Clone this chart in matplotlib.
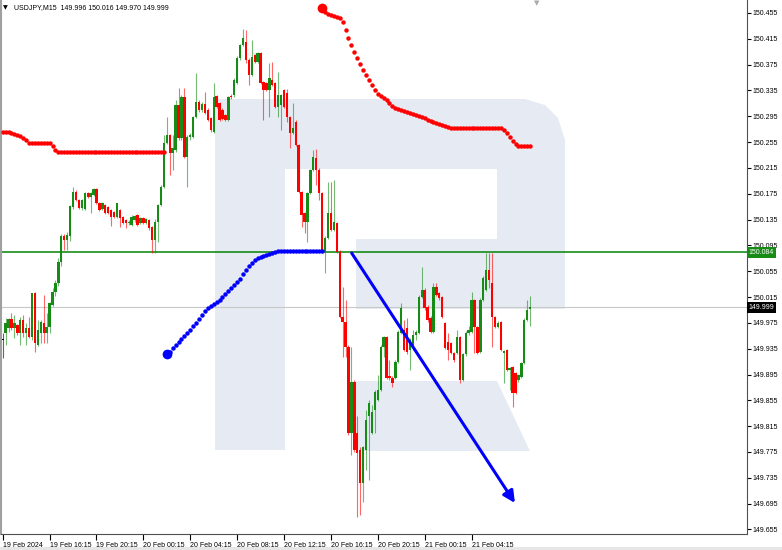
import numpy as np
import matplotlib.pyplot as plt
import matplotlib.transforms as mtransforms
from matplotlib.patches import Polygon, Rectangle

# USDJPY M15 bars, 19 Feb 12:15 .. 21 Feb 09:15
opens = [
    149.949, 149.960, 149.967, 149.981, 149.967, 149.972, 149.960, 149.980, 149.960, 149.967,
    149.953, 150.021, 149.941, 149.960, 149.975, 149.960, 149.969, 150.003, 150.023, 150.037,
    150.069, 150.110, 150.103, 150.110, 150.155, 150.178, 150.165, 150.153, 150.151, 150.176,
    150.170, 150.173, 150.182, 150.161, 150.151, 150.158, 150.155, 150.150, 150.147, 150.139,
    150.150, 150.139, 150.134, 150.130, 150.127, 150.134, 150.142, 150.130, 150.138, 150.130,
    150.134, 150.124, 150.103, 150.131, 150.158, 150.186, 150.254, 150.266, 150.238, 150.243,
    150.313, 150.261, 150.325, 150.232, 150.263, 150.263, 150.294, 150.317, 150.305, 150.314,
    150.305, 150.292, 150.271, 150.326, 150.316, 150.305, 150.297, 150.289, 150.326, 150.328,
    150.347, 150.385, 150.405, 150.410, 150.382, 150.359, 150.390, 150.379, 150.393, 150.348,
    150.347, 150.336, 150.351, 150.347, 150.309, 150.313, 150.336, 150.331, 150.294, 150.269,
    150.286, 150.251, 150.178, 150.145, 150.131, 150.176, 150.212, 150.230, 150.212, 150.176,
    150.085, 150.107, 150.145, 150.119, 150.130, 150.085, 149.984, 149.977, 149.938, 149.805,
    149.884, 149.805, 149.778, 149.727, 149.778, 149.830, 149.805, 149.840, 149.856, 149.871,
    149.938, 149.953, 149.893, 149.890, 149.890, 149.915, 149.960, 149.964, 149.967, 149.933,
    149.941, 149.956, 149.960, 150.015, 150.026, 150.000, 149.983, 149.961, 150.031, 150.021,
    150.015, 149.975, 149.946, 149.944, 149.929, 149.929, 149.953, 149.887, 149.926, 149.960,
    149.961, 150.011, 149.969, 149.930, 150.011, 150.026, 150.057, 150.037, 149.984, 149.969,
    149.977, 149.929, 149.933, 149.902, 149.907, 149.898, 149.887, 149.891, 149.913, 149.980,
    149.996,
]
highs = [
    149.960, 149.983, 149.983, 149.990, 149.987, 149.973, 149.984, 149.987, 149.975, 149.984,
    150.022, 150.023, 149.980, 149.980, 150.018, 149.990, 150.007, 150.029, 150.042, 150.076,
    150.113, 150.113, 150.116, 150.158, 150.186, 150.181, 150.167, 150.167, 150.178, 150.178,
    150.178, 150.184, 150.184, 150.162, 150.162, 150.159, 150.156, 150.151, 150.148, 150.161,
    150.151, 150.141, 150.136, 150.134, 150.142, 150.142, 150.144, 150.139, 150.139, 150.138,
    150.136, 150.125, 150.136, 150.159, 150.189, 150.266, 150.294, 150.268, 150.266, 150.320,
    150.339, 150.328, 150.339, 150.266, 150.269, 150.295, 150.362, 150.320, 150.317, 150.333,
    150.308, 150.294, 150.347, 150.328, 150.317, 150.308, 150.299, 150.326, 150.330, 150.354,
    150.388, 150.407, 150.430, 150.429, 150.385, 150.413, 150.391, 150.395, 150.395, 150.350,
    150.348, 150.378, 150.379, 150.348, 150.364, 150.330, 150.337, 150.337, 150.295, 150.316,
    150.289, 150.252, 150.179, 150.147, 150.178, 150.213, 150.243, 150.244, 150.215, 150.178,
    150.110, 150.193, 150.193, 150.196, 150.131, 150.088, 150.031, 150.011, 149.941, 149.938,
    149.887, 149.830, 149.782, 149.785, 149.840, 149.856, 149.848, 149.871, 149.895, 149.941,
    149.955, 149.955, 149.918, 149.893, 149.918, 149.964, 150.006, 149.980, 149.983, 149.952,
    149.964, 149.964, 150.018, 150.062, 150.029, 150.003, 149.986, 150.037, 150.037, 150.023,
    150.017, 149.977, 149.960, 149.946, 149.930, 149.964, 149.955, 149.929, 149.963, 149.970,
    150.023, 150.012, 149.970, 150.014, 150.048, 150.083, 150.083, 150.083, 149.986, 149.978,
    149.978, 149.933, 149.935, 149.907, 149.908, 149.899, 149.896, 149.915, 149.983, 150.011,
    150.016,
]
lows = [
    149.921, 149.941, 149.961, 149.964, 149.952, 149.956, 149.941, 149.953, 149.941, 149.952,
    149.949, 149.930, 149.939, 149.944, 149.944, 149.944, 149.960, 150.001, 150.017, 150.032,
    150.063, 150.088, 150.088, 150.102, 150.151, 150.164, 150.151, 150.150, 150.150, 150.169,
    150.145, 150.172, 150.159, 150.148, 150.150, 150.144, 150.144, 150.125, 150.138, 150.138,
    150.124, 150.128, 150.122, 150.127, 150.125, 150.131, 150.125, 150.128, 150.128, 150.128,
    150.119, 150.083, 150.083, 150.100, 150.156, 150.184, 150.252, 150.204, 150.212, 150.240,
    150.258, 150.258, 150.230, 150.186, 150.258, 150.261, 150.292, 150.302, 150.302, 150.299,
    150.288, 150.271, 150.269, 150.308, 150.288, 150.289, 150.288, 150.288, 150.322, 150.325,
    150.345, 150.382, 150.404, 150.378, 150.343, 150.357, 150.378, 150.378, 150.345, 150.289,
    150.334, 150.294, 150.342, 150.308, 150.294, 150.274, 150.308, 150.286, 150.246, 150.268,
    150.249, 150.176, 150.124, 150.114, 150.100, 150.175, 150.210, 150.189, 150.165, 150.083,
    150.052, 150.105, 150.117, 150.117, 150.083, 149.983, 149.922, 149.922, 149.802, 149.771,
    149.775, 149.675, 149.678, 149.698, 149.747, 149.732, 149.803, 149.805, 149.854, 149.870,
    149.922, 149.888, 149.887, 149.876, 149.888, 149.913, 149.958, 149.932, 149.926, 149.902,
    149.933, 149.949, 149.958, 150.014, 149.995, 149.977, 149.960, 149.960, 150.017, 150.011,
    149.983, 149.935, 149.918, 149.927, 149.915, 149.927, 149.882, 149.885, 149.924, 149.956,
    149.960, 149.929, 149.927, 149.929, 150.009, 150.025, 150.029, 149.938, 149.967, 149.967,
    149.932, 149.882, 149.901, 149.871, 149.845, 149.865, 149.884, 149.890, 149.912, 149.978,
    149.970,
]
closes = [
    149.949, 149.975, 149.981, 149.967, 149.975, 149.960, 149.980, 149.960, 149.967, 149.953,
    150.021, 149.944, 149.964, 149.977, 149.960, 149.969, 150.006, 150.023, 150.037, 150.069,
    150.110, 150.103, 150.111, 150.156, 150.178, 150.165, 150.153, 150.165, 150.176, 150.170,
    150.176, 150.182, 150.161, 150.150, 150.161, 150.145, 150.145, 150.139, 150.139, 150.161,
    150.138, 150.130, 150.130, 150.131, 150.139, 150.141, 150.127, 150.138, 150.130, 150.136,
    150.122, 150.103, 150.131, 150.158, 150.186, 150.254, 150.266, 150.238, 150.246, 150.313,
    150.261, 150.325, 150.232, 150.263, 150.266, 150.294, 150.317, 150.305, 150.314, 150.300,
    150.289, 150.274, 150.325, 150.309, 150.289, 150.291, 150.289, 150.325, 150.325, 150.351,
    150.385, 150.405, 150.416, 150.382, 150.359, 150.387, 150.379, 150.393, 150.347, 150.336,
    150.336, 150.354, 150.343, 150.309, 150.328, 150.328, 150.309, 150.294, 150.269, 150.277,
    150.251, 150.178, 150.142, 150.131, 150.176, 150.212, 150.232, 150.212, 150.176, 150.085,
    150.107, 150.145, 150.119, 150.131, 150.085, 149.984, 149.977, 149.938, 149.805, 149.884,
    149.778, 149.774, 149.727, 149.782, 149.825, 149.851, 149.837, 149.868, 149.871, 149.938,
    149.953, 149.890, 149.890, 149.882, 149.915, 149.961, 149.998, 149.933, 149.930, 149.949,
    149.956, 149.961, 150.015, 150.026, 149.998, 149.980, 149.961, 150.031, 150.018, 150.014,
    149.984, 149.936, 149.933, 149.929, 149.918, 149.953, 149.887, 149.926, 149.960, 149.964,
    150.011, 149.969, 149.929, 150.011, 150.045, 150.057, 150.042, 149.984, 149.969, 149.975,
    149.933, 149.932, 149.902, 149.905, 149.867, 149.867, 149.895, 149.913, 149.980, 149.995,
    149.999,
]

# dotted indicator (red = above price, blue = below price)
red_dots_left = [150.271, 150.271, 150.270, 150.269, 150.268, 150.266, 150.264, 150.261,
                 150.258, 150.254, 150.254, 150.253, 150.253, 150.253, 150.253, 150.253,
                 150.253, 150.249, 150.243] + [150.239] * 37          # bars 0..55
blue_dots = [149.926, 149.930, 149.936, 149.941, 149.946, 149.950, 149.955, 149.960,
             149.964, 149.970, 149.975, 149.981, 149.987, 149.994, 149.998, 150.001,
             150.004, 150.008, 150.011, 150.015, 150.020, 150.025, 150.029, 150.034,
             150.038, 150.043, 150.051, 150.057, 150.063, 150.068, 150.073, 150.076,
             150.077, 150.079, 150.080, 150.082, 150.083, 150.085] + [150.086] * 16  # bars 56..109
red_dots_right = [150.463, 150.456, 150.453, 150.452, 150.450, 150.449, 150.447, 150.441,
                  150.429, 150.416, 150.405, 150.395, 150.385, 150.376, 150.367, 150.359,
                  150.351, 150.343, 150.336, 150.330, 150.326, 150.323, 150.320, 150.316,
                  150.311, 150.308, 150.306, 150.305, 150.303, 150.302, 150.300, 150.299,
                  150.297, 150.295, 150.294, 150.292, 150.289, 150.288, 150.286, 150.285,
                  150.283, 150.282, 150.280, 150.278] + [150.277] * 18 + \
                 [150.274, 150.269, 150.263, 150.257, 150.252] + [150.249] * 5  # bars 109..180

level_price = 150.084
last_price = 149.999
arrow_start = (119.1, 150.083)
arrow_end = (174.8, 149.696)

time_ticks = [0, 16, 32, 48, 64, 80, 96, 112, 128, 144, 160]
time_labels = ["19 Feb 2024", "19 Feb 16:15", "19 Feb 20:15", "20 Feb 00:15", "20 Feb 04:15",
               "20 Feb 08:15", "20 Feb 12:15", "20 Feb 16:15", "20 Feb 20:15", "21 Feb 00:15",
               "21 Feb 04:15"]
price_ticks = [150.455, 150.415, 150.375, 150.335, 150.295, 150.255, 150.215, 150.175,
               150.135, 150.095, 150.055, 150.015, 149.975, 149.935, 149.895, 149.855,
               149.815, 149.775, 149.735, 149.695, 149.655]

GREEN = '#168c16'
RED = '#ff0000'
FONT = 'Liberation Sans'
FS = 5

fig = plt.figure(figsize=(7.82, 5.5), dpi=100)
ax = fig.add_axes([1 / 782, 16 / 550, 745.7 / 782, 534 / 550])
ax.set_xlim(-0.58, 253.9)
ax.set_ylim(149.648, 150.475)

# thin grey window frame strip at the very bottom
fig.add_artist(Rectangle((0, 0), 1, 3 / 550, transform=fig.transFigure,
                         fc='#e6e6e6', ec='none'))

# watermark logo, drawn in pixel coordinates of the image
pix = mtransforms.Affine2D().scale(1 / 782, -1 / 550).translate(0, 1) + fig.transFigure
logo_color = '#e6ebf3'
body = [(215, 99), (525, 99), (545, 105), (558, 118), (565, 140), (565, 309), (356, 309),
        (356, 239), (497, 239), (497, 169), (285, 169), (285, 450), (215, 450)]
leg = [(356, 381), (497, 381), (530, 451), (356, 451)]
for pts in (body, leg):
    ax.add_patch(Polygon(pts, closed=True, fc=logo_color, ec='none', transform=pix, zorder=0))

# candles
o = np.array(opens); h = np.array(highs); l = np.array(lows); c = np.array(closes)
x = np.arange(len(c))
cols = np.where(c > o, GREEN, np.where(c < o, RED, '#000000'))
ax.vlines(x, l, h, colors=cols, lw=0.8, alpha=0.6, zorder=2)
ax.bar(x, np.maximum(np.abs(c - o), 0.0008), bottom=np.minimum(o, c), width=0.8,
       color=cols, lw=0, zorder=3)

# level lines
ax.axhline(level_price, color=GREEN, lw=1.2, zorder=1)
ax.axhline(last_price, color='#c8c8c8', lw=0.8, zorder=1)

# indicator dots
ax.plot(np.arange(0, 56), red_dots_left, 'o', color=RED, ms=3.2, mew=0, zorder=4)
ax.plot(np.arange(56, 110), blue_dots, 'o', color='#0000ff', ms=3.2, mew=0, zorder=4)
ax.plot(np.arange(109, 181), red_dots_right, 'o', color=RED, ms=3.2, mew=0, zorder=4)
ax.plot([56], [blue_dots[0]], 'o', color='#0000ff', ms=7, mew=0, zorder=4)
ax.plot([109], [red_dots_right[0]], 'o', color=RED, ms=7, mew=0, zorder=4)

# trend arrow
ax.annotate('', xy=arrow_end, xytext=arrow_start,
            arrowprops=dict(arrowstyle='-|>,head_length=0.7,head_width=0.35', color='#0000ff',
                            lw=2.2, mutation_scale=10, shrinkA=0, shrinkB=0), zorder=5)

# axes
ax.yaxis.tick_right()
ax.set_yticks(price_ticks)
ax.set_yticklabels([f'{p:.3f}' for p in price_ticks], fontsize=FS, family=FONT)
ax.set_xticks(time_ticks)
ax.set_xticklabels(time_labels, fontsize=FS, family=FONT, ha='left')
ax.tick_params(axis='y', direction='out', length=3, width=0.8, pad=1.5)
ax.tick_params(axis='x', direction='out', length=4, width=0.8, pad=1.5)
ax.spines['top'].set_visible(False)
ax.spines['left'].set_color('#a0a0a0')
ax.spines['left'].set_linewidth(1.5)
for s in ('right', 'bottom'):
    ax.spines[s].set_color('#505050')
    ax.spines[s].set_linewidth(0.8)

# price tags on the right axis
tag = mtransforms.blended_transform_factory(ax.transAxes, ax.transData)
ax.text(1.003, level_price, f'{level_price:.3f}', transform=tag, ha='left', va='center',
        color='white', fontsize=FS, family=FONT, zorder=6, clip_on=False,
        bbox=dict(boxstyle='square,pad=0.25', fc=GREEN, ec='none'))
ax.text(1.003, last_price, f'{last_price:.3f}', transform=tag, ha='left', va='center',
        color='white', fontsize=FS, family=FONT, zorder=6, clip_on=False,
        bbox=dict(boxstyle='square,pad=0.25', fc='black', ec='none'))

# header
fig.text(3 / 782, 1 - 8 / 550, '\u25bc', fontsize=4.5, va='center', family='DejaVu Sans')
fig.text(14 / 782, 1 - 8 / 550,
         f'USDJPY,M15  {opens[-1]:.3f} {highs[-1]:.3f} {lows[-1]:.3f} {closes[-1]:.3f}',
         fontsize=FS, va='center', family=FONT)
fig.text(537 / 782, 1.0, '\u25bc', fontsize=5, va='top', ha='center', color='#aaaaaa',
         family='DejaVu Sans')

fig.savefig('out.png', dpi=100)
